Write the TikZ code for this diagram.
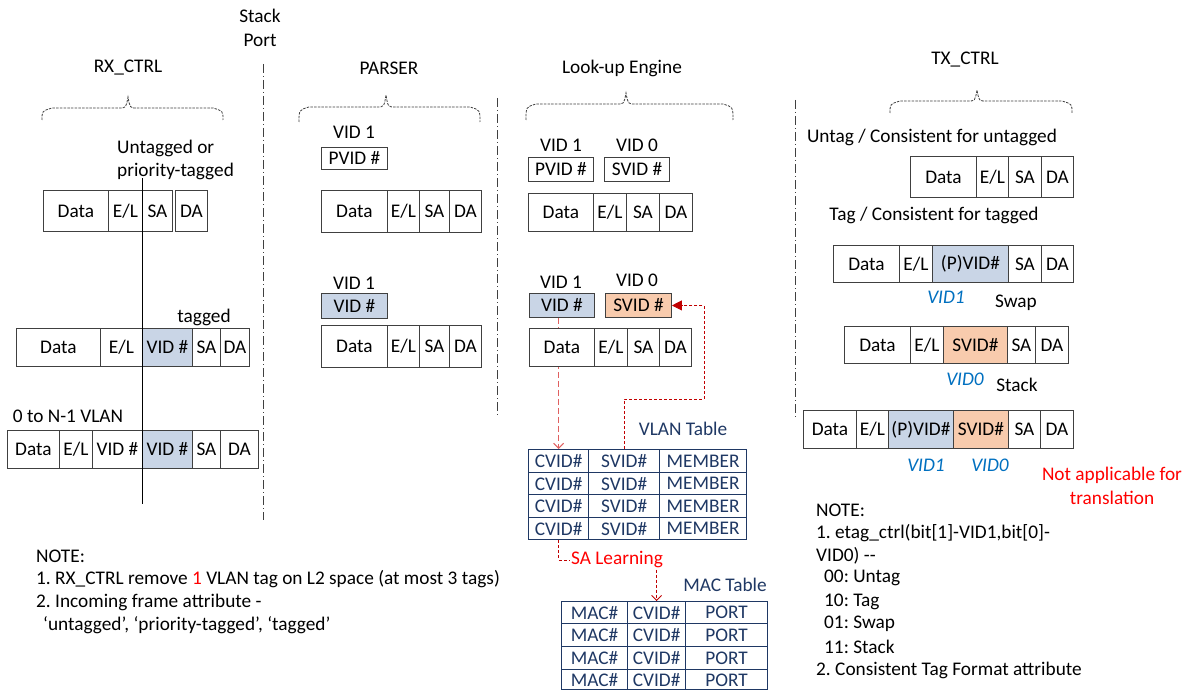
\documentclass[tikz,border=0pt]{standalone}
\usepackage{fontspec}
\setmainfont{Carlito}
\usetikzlibrary{arrows.meta}
\frenchspacing
\definecolor{cellgray}{HTML}{404040}
\definecolor{vidblue}{HTML}{C9D5E6}
\definecolor{vidorange}{HTML}{F8CBAD}
\definecolor{navy}{HTML}{1F3864}
\definecolor{itblue}{HTML}{0070C0}
\definecolor{lred}{HTML}{E06060}
\definecolor{dred}{HTML}{C00000}
\definecolor{txtred}{HTML}{FF0000}
\newcommand\fcell[7]{\node[cell,fill=#6,minimum width={#3pt-#2pt},minimum height={#5pt-#4pt},anchor=north west] (#1) at (#2,#4) {#7};}
\newcommand\tcellx[6]{\node[tcell,minimum width={#3pt-#2pt},minimum height={#5pt-#4pt},anchor=north west] (#1) at (#2,#4) {#6};}
\newcommand\dashbrace[6]{\draw[bracestyle] (#1,#4) .. controls (#1,#5+3) .. (#1+10,#5) -- (#3-9,#5) .. controls (#3-2,#5) .. (#3,#6) .. controls (#3+2,#5) .. (#3+9,#5) -- (#2-10,#5) .. controls (#2,#5+3) .. (#2,#4);}
\tikzset{
  base/.style={font=\fontsize{19.3}{23.5}\selectfont\frenchspacing, inner sep=1pt},
  cell/.style={base, draw=cellgray, line width=0.9pt, inner sep=0pt},
  tcell/.style={base, draw=navy, text=navy, line width=1.2pt, inner sep=0pt},
  lbl/.style={base},
  itlbl/.style={font=\fontsize{19.3}{23.5}\selectfont\itshape, text=itblue, inner sep=1pt},
  bracestyle/.style={draw=cellgray, line width=0.8pt, dash pattern=on 2.5pt off 1.2pt},
  divider/.style={draw=cellgray, line width=1pt, dash pattern=on 9pt off 3pt on 1pt off 3pt},
  lconn/.style={draw=lred, line width=1.1pt, dash pattern=on 6pt off 3pt},
  dconn/.style={draw=dred, line width=0.9pt, dash pattern=on 3pt off 2pt},
}
\begin{document}
\begin{tikzpicture}[x=1pt,y=-1pt]
\fill[white] (0,0) rectangle (1189,690);
\useasboundingbox (0,0) rectangle (1189,690);
% headers
\node[lbl,align=center] (stackport) at (260,28) {Stack\\Port};
\node[lbl] (hrx) at (128,68) {RX\_CTRL};
\node[lbl] (hpa) at (389,68) {PARSER};
\node[lbl] (hlu) at (622,68) {Look-up Engine};
\node[lbl] (htx) at (965,60) {TX\_CTRL};
% braces
\dashbrace{42}{223}{128}{120}{108}{97}
\dashbrace{299}{480}{386}{122}{107}{95}
\dashbrace{526}{733}{626}{120}{104}{93}
\dashbrace{890}{1072}{977}{113}{101}{90}
% dividers
\coordinate (d1t) at (263,64); \coordinate (d1b) at (263,520);
\coordinate (d2t) at (497,98); \coordinate (d2b) at (497,418);
\coordinate (d3t) at (795,100); \coordinate (d3b) at (795,420);
\draw[divider] (d1t) -- (d1b);
\draw[divider] (d2t) -- (d2b);
\draw[divider] (d3t) -- (d3b);
% ---------- RX_CTRL ----------
\node[lbl,align=left,anchor=west] (untag) at (116,160) {Untagged or\\priority-tagged};
\fcell{r1a}{43}{108}{190}{231}{white}{Data}
\fcell{r1b}{108}{142}{190}{231}{white}{E/L}
\fcell{r1c}{142}{172}{190}{231}{white}{SA}
\fcell{r1d}{175}{207}{190}{231}{white}{DA}
\node[lbl] (tagged) at (204,317) {tagged};
\fcell{r2a}{16}{100}{328}{366}{white}{Data}
\fcell{r2b}{100}{142}{328}{366}{white}{E/L}
\fcell{r2c}{142}{192}{328}{366}{vidblue}{VID \#}
\fcell{r2d}{192}{220}{328}{366}{white}{SA}
\fcell{r2e}{220}{249}{328}{366}{white}{DA}
\node[lbl] (nvlan) at (68,416) {0 to N-1 VLAN};
\fcell{r3a}{7}{59}{430}{468}{white}{Data}
\fcell{r3b}{59}{92}{430}{468}{white}{E/L}
\fcell{r3c}{92}{142}{430}{468}{white}{VID \#}
\fcell{r3d}{142}{192}{430}{468}{vidblue}{VID \#}
\fcell{r3e}{192}{220}{430}{468}{white}{SA}
\fcell{r3f}{220}{258}{430}{468}{white}{DA}
\coordinate (vlt) at (142,178); \coordinate (vlb) at (142,504);
\draw[black, line width=1pt] (vlt) -- (vlb);
% notes left
\node[lbl,anchor=west] (nl0) at (35,556) {NOTE:};
\node[lbl,anchor=west] (nl1) at (35,579) {1. RX\_CTRL remove \textcolor{txtred}{1} VLAN tag on L2 space (at most 3 tags)};
\node[lbl,anchor=west] (nl2) at (35,602) {2. Incoming frame attribute -};
\node[lbl,anchor=west] (nl3) at (42,625) {‘untagged’, ‘priority-tagged’, ‘tagged’};
% ---------- PARSER ----------
\node[lbl] (pv1) at (354,132) {VID 1};
\fcell{p0}{321}{387}{147}{169}{white}{PVID \#}
\fcell{p1a}{321}{387}{190}{232}{white}{Data}
\fcell{p1b}{387}{419}{190}{232}{white}{E/L}
\fcell{p1c}{419}{449}{190}{232}{white}{SA}
\fcell{p1d}{449}{481}{190}{232}{white}{DA}
\node[lbl] (pv2) at (354,283) {VID 1};
\fcell{p2}{321}{387}{293}{318}{vidblue}{VID \#}
\fcell{p3a}{321}{387}{325}{367}{white}{Data}
\fcell{p3b}{387}{419}{325}{367}{white}{E/L}
\fcell{p3c}{419}{449}{325}{367}{white}{SA}
\fcell{p3d}{449}{481}{325}{367}{white}{DA}
% ---------- LOOK-UP ----------
\node[lbl] (lv1) at (561,145) {VID 1};
\node[lbl] (lv0) at (637,145) {VID 0};
\fcell{l0a}{528}{593}{157}{181}{white}{PVID \#}
\fcell{l0b}{604}{669}{157}{181}{white}{SVID \#}
\fcell{l1a}{528}{593}{193}{231}{white}{Data}
\fcell{l1b}{593}{626}{193}{231}{white}{E/L}
\fcell{l1c}{626}{659}{193}{231}{white}{SA}
\fcell{l1d}{659}{692}{193}{231}{white}{DA}
\node[lbl] (lv1b) at (561,282) {VID 1};
\node[lbl] (lv0b) at (637,280) {VID 0};
% VLAN table
\node[lbl,text=navy] (vlanlbl) at (683,429) {VLAN Table};
\tcellx{v11}{528}{588}{449}{472}{CVID\#}
\tcellx{v12}{588}{659}{449}{472}{SVID\#}
\tcellx{v13}{659}{746}{449}{472}{MEMBER}
\tcellx{v21}{528}{588}{472}{494}{CVID\#}
\tcellx{v22}{588}{659}{472}{494}{SVID\#}
\tcellx{v23}{659}{746}{472}{494}{MEMBER}
\tcellx{v31}{528}{588}{494}{517}{CVID\#}
\tcellx{v32}{588}{659}{494}{517}{SVID\#}
\tcellx{v33}{659}{746}{494}{517}{MEMBER}
\tcellx{v41}{528}{588}{517}{539}{CVID\#}
\tcellx{v42}{588}{659}{517}{539}{SVID\#}
\tcellx{v43}{659}{746}{517}{539}{MEMBER}
% MAC table
\node[lbl,text=navy] (maclbl) at (725,585) {MAC Table};
\tcellx{m11}{561}{627}{601}{623}{MAC\#}
\tcellx{m12}{627}{685}{601}{623}{CVID\#}
\tcellx{m13}{685}{767}{601}{623}{PORT}
\tcellx{m21}{561}{627}{623}{646}{MAC\#}
\tcellx{m22}{627}{685}{623}{646}{CVID\#}
\tcellx{m23}{685}{767}{623}{646}{PORT}
\tcellx{m31}{561}{627}{646}{669}{MAC\#}
\tcellx{m32}{627}{685}{646}{669}{CVID\#}
\tcellx{m33}{685}{767}{646}{669}{PORT}
\tcellx{m41}{561}{627}{669}{689.4}{MAC\#}
\tcellx{m42}{627}{685}{669}{689.4}{CVID\#}
\tcellx{m43}{685}{767}{669}{689.4}{PORT}
\node[lbl,text=txtred] (sal) at (617,560) {SA Learning};
% connectors (drawn before the frame so it hides them)
\fcell{l2a}{529}{594}{293}{317}{vidblue}{VID \#}
\fcell{l2b}{605}{671}{293}{317}{vidorange}{SVID \#}
\draw[lconn,-{Straight Barb[length=5pt,width=10pt]}] (l2a.south -| v11.north) -- (v11.north);
\coordinate (c2a) at (704,399);
\draw[dconn,-{Triangle[length=10pt,width=10pt]}] (v12.north) |- (c2a) |- (l2b.east);
\draw[dconn] (v41.south) |- (sal.west);
\draw[dconn,-{Straight Barb[length=5pt,width=10pt]}] (sal.south -| m12.north) -- (m12.north);
\fcell{l3a}{529}{594}{328}{366}{white}{Data}
\fcell{l3b}{594}{627}{328}{366}{white}{E/L}
\fcell{l3c}{627}{659}{328}{366}{white}{SA}
\fcell{l3d}{659}{691}{328}{366}{white}{DA}
% ---------- TX_CTRL ----------
\node[lbl] (tuntag) at (932,137) {Untag / Consistent for untagged};
\fcell{t1a}{910}{976}{156}{197}{white}{Data}
\fcell{t1b}{976}{1008}{156}{197}{white}{E/L}
\fcell{t1c}{1008}{1041}{156}{197}{white}{SA}
\fcell{t1d}{1041}{1073}{156}{197}{white}{DA}
\node[lbl] (ttag) at (934,215) {Tag / Consistent for tagged};
\fcell{t2a}{833}{899}{245}{282}{white}{Data}
\fcell{t2b}{899}{932}{245}{282}{white}{E/L}
\fcell{t2c}{932}{1008}{245}{282}{vidblue}{(P)VID\#}
\fcell{t2d}{1008}{1041}{245}{282}{white}{SA}
\fcell{t2e}{1041}{1073}{245}{282}{white}{DA}
\node[itlbl] (tv1a) at (946,297) {VID1};
\node[lbl] (tswap) at (1016,303) {Swap};
\fcell{t3a}{844}{910}{326}{363}{white}{Data}
\fcell{t3b}{910}{943}{326}{363}{white}{E/L}
\fcell{t3c}{943}{1007}{326}{363}{vidorange}{SVID\#}
\fcell{t3d}{1007}{1035}{326}{363}{white}{SA}
\fcell{t3e}{1035}{1068}{326}{363}{white}{DA}
\node[itlbl] (tv0a) at (965,379) {VID0};
\node[lbl] (tstack) at (1017,385) {Stack};
\fcell{t4a}{803}{856}{410}{448}{white}{Data}
\fcell{t4b}{856}{888}{410}{448}{white}{E/L}
\fcell{t4c}{888}{953}{410}{448}{vidblue}{(P)VID\#}
\fcell{t4d}{953}{1008}{410}{448}{vidorange}{SVID\#}
\fcell{t4e}{1008}{1040}{410}{448}{white}{SA}
\fcell{t4f}{1040}{1073}{410}{448}{white}{DA}
\node[itlbl] (tv1b) at (926,465) {VID1};
\node[itlbl] (tv0b) at (990,465) {VID0};
\node[lbl,text=txtred,align=center] (notapp) at (1112,486) {Not applicable for\\translation};
% notes right
\node[lbl,anchor=west] (nr0) at (815,510) {NOTE:};
\node[lbl,anchor=west] (nr1) at (815,533) {1. etag\_ctrl(bit[1]-VID1,bit[0]-};
\node[lbl,anchor=west] (nr2) at (815,556) {VID0) -{}-};
\node[lbl,anchor=west] (nr3) at (823,578) {00: Untag};
\node[lbl,anchor=west] (nr4) at (823,602) {10: Tag};
\node[lbl,anchor=west] (nr5) at (823,624) {01: Swap};
\node[lbl,anchor=west] (nr6) at (823,647) {11: Stack};
\node[lbl,anchor=west] (nr7) at (815,670) {2. Consistent Tag Format attribute};
\end{tikzpicture}
\end{document}
